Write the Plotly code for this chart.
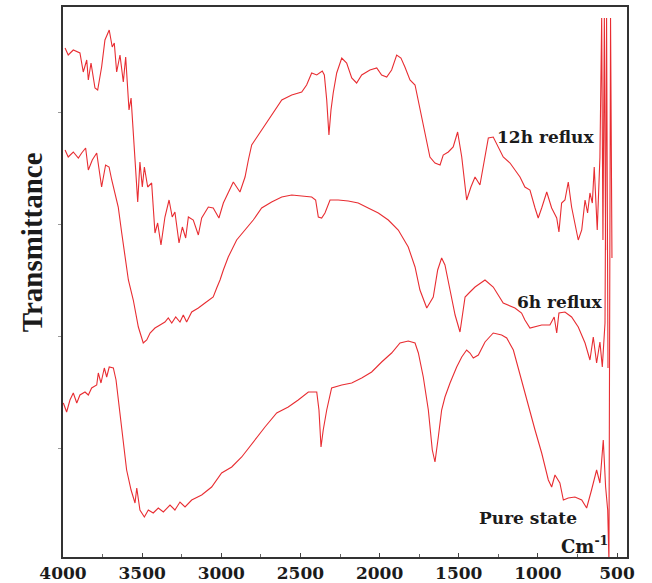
import plotly.graph_objects as go

# ---- Data (wavenumber cm-1, transmittance in arbitrary units) ----
wn_12h = [3987, 3967, 3935, 3893, 3872, 3850, 3840, 3823, 3798, 3781, 3756, 3735, 3708, 3689, 3676, 3661,
          3640, 3619, 3604, 3583, 3570, 3550, 3528, 3514, 3499, 3486, 3465, 3440, 3419, 3402, 3381, 3356,
          3330, 3310, 3293, 3267, 3246, 3225, 3208, 3177, 3145, 3124, 3082, 3051, 3015, 2987, 2956, 2924,
          2882, 2850, 2829, 2808, 2787, 2745, 2682, 2618, 2555, 2492, 2461, 2429, 2397, 2362, 2349, 2334,
          2320, 2307, 2293, 2271, 2239, 2208, 2176, 2145, 2113, 2061, 2018, 1987, 1955, 1924, 1892, 1865,
          1840, 1808, 1776, 1745, 1713, 1682, 1650, 1618, 1598, 1566, 1535, 1507, 1481, 1450, 1423, 1397,
          1366, 1339, 1313, 1282, 1250, 1219, 1176, 1145, 1113, 1082, 1050, 1018, 998, 976, 944, 913,
          881, 867, 850, 829, 808, 787, 766, 745, 723, 702, 686, 671, 656, 644, 625, 608, 597, 589, 580, 572]
t_12h = [510, 503, 508, 505, 486, 498, 478, 495, 470, 468, 491, 518, 528, 511, 515, 486,
         503, 476, 501, 448, 460, 415, 356, 396, 371, 391, 371, 375, 325, 335, 313, 341,
         358, 341, 346, 315, 331, 320, 341, 338, 323, 340, 351, 350, 340, 355, 365, 376,
         366, 381, 398, 413, 418, 428, 443, 458, 463, 466, 473, 485, 483, 487, 483, 458,
         423, 448, 465, 485, 500, 495, 480, 475, 483, 488, 490, 483, 481, 488, 503, 500,
         491, 478, 473, 450, 425, 401, 395, 393, 403, 406, 411, 426, 401, 358, 371, 381,
         373, 398, 420, 421, 411, 401, 395, 388, 381, 371, 368, 350, 340, 350, 366, 350,
         340, 326, 355, 358, 376, 351, 333, 318, 328, 358, 345, 365, 355, 391, 328, 401, 540, 318, 540, 308]

wn_6h = [3987, 3967, 3935, 3903, 3882, 3857, 3840, 3815, 3787, 3756, 3731, 3709, 3692, 3672, 3651, 3629,
         3608, 3587, 3556, 3524, 3493, 3471, 3450, 3419, 3387, 3356, 3335, 3313, 3288, 3261, 3240, 3219,
         3187, 3145, 3103, 3051, 3029, 3008, 2987, 2956, 2903, 2850, 2798, 2745, 2682, 2618, 2555, 2492,
         2429, 2404, 2387, 2366, 2345, 2313, 2261, 2198, 2135, 2072, 2008, 1945, 1882, 1819, 1776, 1745,
         1702, 1661, 1633, 1608, 1587, 1555, 1523, 1492, 1460, 1429, 1397, 1334, 1282, 1219, 1145, 1103,
         1082, 1050, 1018, 976, 924, 897, 881, 867, 829, 787, 745, 702, 671, 650, 629, 608, 593, 576, 566, 557]
t_6h = [408, 401, 406, 400, 405, 410, 388, 398, 405, 371, 393, 391, 378, 365, 351, 325,
        301, 278, 258, 231, 215, 218, 225, 230, 233, 236, 240, 235, 241, 236, 243, 236,
        246, 250, 255, 261, 270, 278, 288, 301, 318, 328, 338, 350, 356, 361, 363, 362,
        361, 358, 341, 340, 345, 358, 358, 357, 355, 350, 345, 338, 328, 311, 291, 268,
        250, 261, 288, 300, 293, 268, 243, 226, 261, 266, 271, 278, 271, 255, 250, 245,
        238, 230, 231, 233, 233, 241, 225, 245, 246, 241, 231, 215, 198, 221, 195, 216, 191, 235, 540, 190]

wn_pure = [3998, 3977, 3956, 3935, 3913, 3893, 3861, 3840, 3819, 3787, 3777, 3760, 3739, 3724, 3708, 3682,
           3665, 3644, 3619, 3598, 3570, 3545, 3534, 3514, 3486, 3461, 3430, 3398, 3366, 3324, 3293, 3261,
           3229, 3187, 3124, 3061, 2998, 2934, 2871, 2798, 2724, 2650, 2577, 2514, 2450, 2397, 2383, 2370,
           2356, 2334, 2303, 2239, 2176, 2113, 2050, 1987, 1924, 1871, 1819, 1776, 1755, 1724, 1692, 1667,
           1650, 1629, 1608, 1587, 1555, 1513, 1481, 1450, 1429, 1408, 1376, 1334, 1282, 1229, 1197, 1155,
           1103, 1061, 1018, 976, 934, 913, 892, 861, 839, 808, 766, 723, 692, 661, 629, 608, 587, 572,
           559, 551, 541, 532]
t_pure = [155, 146, 158, 165, 155, 163, 166, 163, 170, 173, 185, 175, 190, 181, 191, 190,
          178, 148, 115, 88, 68, 55, 70, 48, 41, 48, 45, 50, 46, 53, 48, 56,
          51, 58, 63, 71, 85, 91, 101, 116, 131, 145, 151, 158, 166, 166, 148, 111,
          128, 148, 170, 173, 175, 180, 186, 196, 205, 215, 217, 215, 205, 181, 148, 108,
          96, 121, 148, 161, 175, 191, 201, 208, 205, 200, 203, 216, 225, 223, 220, 208,
          178, 151, 128, 105, 78, 71, 83, 75, 58, 60, 61, 58, 50, 68, 88, 75, 118, 71,
          48, -3, 540, 300]

x_ticks = [4000, 3500, 3000, 2500, 2000, 1500, 1000, 500]
x_tick_labels = ["4000", "3500", "3000", "2500", "2000", "1500", "1000", "500"]

series_labels = ["12h reflux", "6h reflux", "Pure state"]
label_pos_x = [950, 858, 1063]
label_pos_y = [421, 256, 40]

RED = "rgb(232,45,50)"
INK = "#1b1b1b"
FONT = "DejaVu Serif"

fig = go.Figure()
for wx, ty in [(wn_12h, t_12h), (wn_6h, t_6h), (wn_pure, t_pure)]:
    fig.add_trace(go.Scatter(x=wx, y=ty, mode="lines",
                             line=dict(color=RED, width=1.1),
                             showlegend=False, hoverinfo="skip"))

for txt, lx, ly in zip(series_labels, label_pos_x, label_pos_y):
    fig.add_annotation(x=lx, y=ly, xref="x", yref="y", text="<b>%s</b>" % txt,
                       showarrow=False, font=dict(family=FONT, size=17, color=INK))

fig.add_annotation(x=703, y=13, xref="x", yref="y", text="<b>Cm<sup>-1</sup></b>",
                   showarrow=False, font=dict(family=FONT, size=18, color=INK))

fig.add_annotation(x=-0.056, y=0.573, xref="paper", yref="paper", text="<b>Transmittance</b>",
                   textangle=-90, showarrow=False, xanchor="center", yanchor="middle",
                   font=dict(family="Liberation Serif", size=29, color=INK))

fig.update_layout(
    width=652, height=583,
    margin=dict(l=63, r=25, t=7, b=26, autoexpand=False),
    paper_bgcolor="white", plot_bgcolor="white",
    xaxis=dict(range=[4000, 437], autorange=False,
               tickvals=x_ticks, ticktext=["<b>%s</b>" % s for s in x_tick_labels],
               ticks="inside", ticklen=4, tickwidth=1.2, tickcolor="#444",
               minor=dict(dtick=250, tick0=0, ticks="inside", ticklen=3, tickcolor="#666"),
               showline=True, linecolor="#333", linewidth=2, mirror=True,
               showgrid=False, zeroline=False, automargin=False,
               tickfont=dict(family=FONT, size=17, color=INK)),
    yaxis=dict(range=[1, 551], autorange=False,
               tick0=110, dtick=112, ticks="outside", ticklen=3, tickcolor="#999",
               showticklabels=False,
               showline=True, linecolor="#333", linewidth=2, mirror=True,
               showgrid=False, zeroline=False, automargin=False),
)

fig.write_html("out.html")
